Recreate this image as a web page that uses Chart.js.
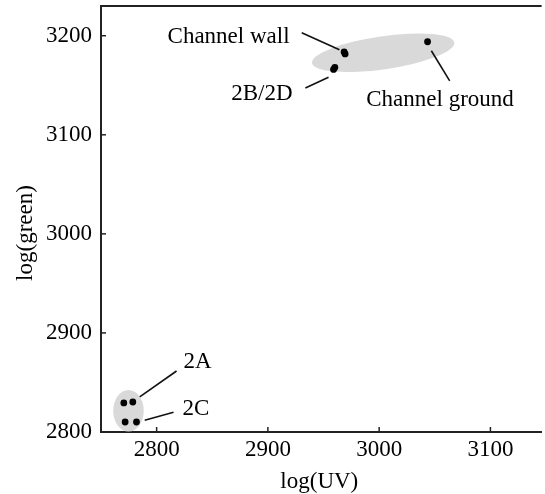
<!DOCTYPE html>
<html><head><meta charset="utf-8">
<script src="https://cdn.jsdelivr.net/npm/chart.js@4"></script>
<style>html,body{margin:0;padding:0;background:#fff;} #wrap{width:545px;height:494px;}</style>
</head><body><div id="wrap"><canvas id="c" width="545" height="494"></canvas></div>
<script>
// ---- data ----
const xTicks = [2800, 2900, 3000, 3100];
const yTicks = [2800, 2900, 3000, 3100, 3200];
const sampleNames = ['2A', '2A', '2C', '2C', '2B', '2D', 'Channel wall', 'Channel wall', 'Channel ground'];
const uvValues    = [2770.5, 2778.6, 2771.7, 2781.9, 2960.2, 2959.0, 2968.5, 2969.4, 3043.5];
const greenValues = [2829.3, 2830.3, 2810.1, 2810.1, 3168.0, 3166.0, 3183.6, 3181.6, 3193.9];
// grey cluster ellipses (data units)
const clusterCenterUV    = [2774.7, 3003.6];
const clusterCenterGreen = [2821.4, 3182.8];
const clusterRadiusUV    = [13.7, 64.6];
const clusterRadiusGreen = [21.0, 16.7];
const clusterTiltDeg     = [0, -8.2];
// annotation labels (data units)
const labelTexts  = ['Channel wall', '2B/2D', 'Channel ground', '2A', '2C'];
const labelUV     = [2809.8, 2867.0, 2988.4, 2824.1, 2823.2];
const labelGreen  = [3192.9, 3135.4, 3129.3, 2864.6, 2817.2];
const leaderFromUV    = [2930.4, 2933.7, 3046.9, 2784.8, 2789.3];
const leaderFromGreen = [3203.0, 3147.2, 3184.8, 2835.4, 2811.8];
const leaderToUV      = [2964.3, 2954.5, 3063.4, 2817.9, 2815.2];
const leaderToGreen   = [3185.9, 3158.1, 3154.5, 2861.6, 2819.9];

const F = "'Liberation Serif', 'Times New Roman', serif";
const FS = 23;

const decor = {
  id: 'decor',
  beforeDatasetsDraw(chart) {
    const {ctx, scales: {x, y}} = chart;
    ctx.save();
    ctx.fillStyle = '#d9d9d9';
    for (let i = 0; i < clusterCenterUV.length; i++) {
      const cx = x.getPixelForValue(clusterCenterUV[i]);
      const cy = y.getPixelForValue(clusterCenterGreen[i]);
      const rx = x.getPixelForValue(clusterCenterUV[i] + clusterRadiusUV[i]) - cx;
      const ry = cy - y.getPixelForValue(clusterCenterGreen[i] + clusterRadiusGreen[i]);
      ctx.beginPath();
      ctx.ellipse(cx, cy, rx, ry, clusterTiltDeg[i] * Math.PI / 180, 0, Math.PI * 2);
      ctx.fill();
    }
    ctx.restore();
  },
  afterDraw(chart) {
    const {ctx, chartArea: a, scales: {x, y}} = chart;
    ctx.save();
    ctx.strokeStyle = '#222';
    ctx.lineWidth = 2;
    ctx.beginPath(); ctx.moveTo(a.left - 1, a.top); ctx.lineTo(a.right, a.top); ctx.stroke();
    ctx.lineWidth = 1.5;
    xTicks.forEach(v => { const px = x.getPixelForValue(v); ctx.beginPath(); ctx.moveTo(px, a.bottom); ctx.lineTo(px, a.bottom - 5); ctx.stroke(); });
    yTicks.forEach(v => { const py = y.getPixelForValue(v); ctx.beginPath(); ctx.moveTo(a.left, py); ctx.lineTo(a.left + 5, py); ctx.stroke(); });
    ctx.strokeStyle = '#111';
    ctx.lineWidth = 1.6;
    for (let i = 0; i < labelTexts.length; i++) {
      ctx.beginPath();
      ctx.moveTo(x.getPixelForValue(leaderFromUV[i]), y.getPixelForValue(leaderFromGreen[i]));
      ctx.lineTo(x.getPixelForValue(leaderToUV[i]), y.getPixelForValue(leaderToGreen[i]));
      ctx.stroke();
    }
    ctx.fillStyle = '#000';
    ctx.font = FS + 'px ' + F;
    ctx.textAlign = 'left';
    ctx.textBaseline = 'alphabetic';
    for (let i = 0; i < labelTexts.length; i++) {
      ctx.fillText(labelTexts[i], x.getPixelForValue(labelUV[i]), y.getPixelForValue(labelGreen[i]));
    }
    // axis titles
    ctx.textAlign = 'center';
    ctx.fillText('log(UV)', (a.left + a.right) / 2 - 2, chart.height - 6);
    ctx.translate(32, (a.top + a.bottom) / 2 + 14);
    ctx.rotate(-Math.PI / 2);
    ctx.fillText('log(green)', 0, 0);
    ctx.restore();
  }
};

const plainTick = v => String(v);

new Chart(document.getElementById('c'), {
  type: 'scatter',
  data: {
    datasets: [{
      label: 'samples',
      data: uvValues.map((v, i) => ({x: v, y: greenValues[i], name: sampleNames[i]})),
      backgroundColor: '#000',
      borderWidth: 0,
      pointRadius: 3.4,
      pointHoverRadius: 3.4
    }]
  },
  options: {
    responsive: false,
    animation: false,
    layout: {padding: {top: 6, right: 0, left: 0, bottom: 0}},
    plugins: {legend: {display: false}, tooltip: {enabled: false}},
    scales: {
      x: {
        type: 'linear', min: 2750, max: 3146,
        afterBuildTicks: s => { s.ticks = xTicks.map(v => ({value: v})); },
        afterFit: s => { s.height = 62; s.paddingLeft = 0; s.paddingRight = 0; },
        grid: {display: false, drawTicks: false},
        border: {display: true, color: '#222', width: 2},
        ticks: {padding: 4, color: '#000', font: {family: F, size: FS}, callback: plainTick}
      },
      y: {
        type: 'linear', min: 2800, max: 3230,
        afterBuildTicks: s => { s.ticks = yTicks.map(v => ({value: v})); },
        afterFit: s => { s.width = 101; s.paddingTop = 0; s.paddingBottom = 0; },
        grid: {display: false, drawTicks: false},
        border: {display: true, color: '#222', width: 2},
        ticks: {padding: 9, color: '#000', font: {family: F, size: FS}, callback: plainTick}
      }
    }
  },
  plugins: [decor]
});
</script>
</body></html>
